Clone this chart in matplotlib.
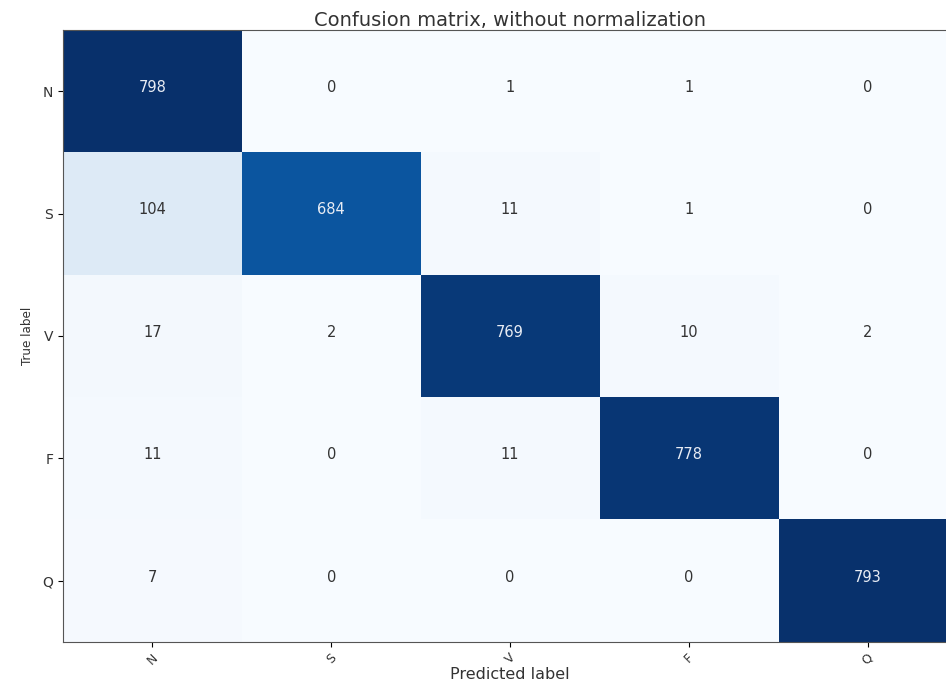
import numpy as np
import matplotlib.pyplot as plt

classes = ['N', 'S', 'V', 'F', 'Q']
cm = np.array([
    [798, 0, 1, 1, 0],
    [104, 684, 11, 1, 0],
    [17, 2, 769, 10, 2],
    [11, 0, 11, 778, 0],
    [7, 0, 0, 0, 793],
])

fig = plt.figure(figsize=(9.46, 6.84), dpi=100)
# axes runs a little past the right edge of the figure
ax = fig.add_axes([63/946, 42/684, 894/946, 612/684])
ax.imshow(cm, interpolation='nearest', cmap=plt.cm.Blues, aspect='auto')
ax.set_title('Confusion matrix, without normalization', fontsize=14,
             color='#333333', pad=3)

ticks = np.arange(len(classes))
ax.set_xticks(ticks)
ax.set_xticklabels(classes, rotation=45, color='#333333')
ax.set_yticks(ticks)
ax.set_yticklabels(classes, color='#333333')
ax.tick_params(axis='x', labelsize=9, pad=3)
ax.tick_params(axis='y', labelsize=10)
for s in ax.spines.values():
    s.set_color('#555555')

thresh = cm.max() / 2.
for i in range(cm.shape[0]):
    for j in range(cm.shape[1]):
        ax.text(j, i - 0.03, format(cm[i, j], 'd'),
                horizontalalignment='center', verticalalignment='center',
                color='#e8ecf4' if cm[i, j] > thresh else '#333333',
                fontsize=10.5)

ax.set_ylabel('True label', fontsize=9.5, fontstretch='condensed',
              color='#333333', labelpad=6)
ax.set_xlabel('Predicted label', fontsize=11.5, color='#333333', labelpad=0)

fig.savefig('out.png', dpi=100)
